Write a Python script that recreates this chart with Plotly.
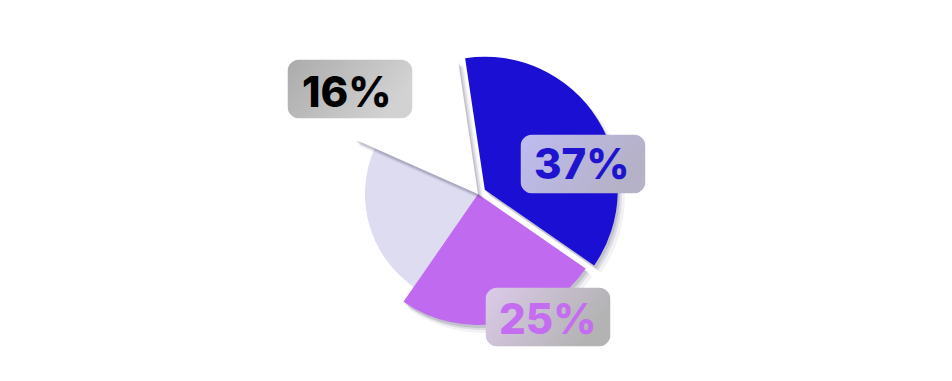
import base64
import plotly.graph_objects as go

# ---------------- data ----------------
categories = ["Blue", "Purple", "Lavender", "White"]
values = [37, 25, 22, 16]
slice_colors = ["#1b0fd4", "#c06bef", "#dedcf0", "#ffffff"]
label_text_colors = ["#2013cf", "#c46df0", "#b9b6dc", "#000000"]
show_label = [True, True, False, True]

# ---------------- layout constants ----------------
W, H = 952, 381
CX, CY = 478, 194
ROTATION = -8.5
radius_px = {"Blue": 133, "Purple": 131, "Lavender": 113, "White": 135}
pull_px = {"Blue": 8, "Purple": 0, "Lavender": 0, "White": 0}
has_shadow = {"Blue": True, "Purple": True, "Lavender": False, "White": True}
draw_order = ["Lavender", "Purple", "White", "Blue"]
shadow_layers = [  # (dx, dy, extra radius, color)
    (6, 7, 1, "rgba(70,70,100,0.07)"),
    (4, 5, 0, "rgba(70,70,100,0.13)"),
    (2, 3, 0, "rgba(70,70,100,0.16)"),
]
# label boxes: center x, center y (px), text center, gradient colours
label_boxes = {
    "Blue": dict(cx=583, cy=164, tx=582, ty=163, c1="#bebcf1", c2="#b5b1c6"),
    "Purple": dict(cx=548, cy=317, tx=547, ty=318, c1="#dccaea", c2="#b3b3b3"),
    "White": dict(cx=350, cy=89, tx=347, ty=92, c1="#ababab", c2="#d2d2d2"),
}
BOX_W, BOX_H, BOX_R = 125, 59, 12


def pie_domain(cx, cy, r, pull_frac):
    half = r * (1 + pull_frac)
    return dict(x=[(cx - half) / W, (cx + half) / W],
                y=[1 - (cy + half) / H, 1 - (cy - half) / H])


def box_uri(w, h, c1, c2, r):
    svg = (f'<svg xmlns="http://www.w3.org/2000/svg" width="{w}" height="{h}" '
           f'viewBox="0 0 {w} {h}" preserveAspectRatio="none"><defs>'
           f'<linearGradient id="g" x1="0" y1="0" x2="1" y2="0.35">'
           f'<stop offset="0" stop-color="{c1}"/><stop offset="1" stop-color="{c2}"/>'
           f'</linearGradient></defs>'
           f'<rect x="0" y="0" width="{w}" height="{h}" rx="{r}" ry="{r}" fill="url(#g)"/></svg>')
    return "data:image/svg+xml;base64," + base64.b64encode(svg.encode()).decode()


fig = go.Figure()


def add_slice(idx, color, dx=0, dy=0, extra_r=0):
    name = categories[idx]
    r = radius_px[name] + extra_r
    pull_frac = pull_px[name] / radius_px[name]
    colors = ["rgba(0,0,0,0)"] * len(values)
    colors[idx] = color
    pulls = [0] * len(values)
    pulls[idx] = pull_frac
    fig.add_trace(go.Pie(
        labels=categories, values=values, sort=False, direction="clockwise",
        rotation=ROTATION, pull=pulls, textinfo="none", hoverinfo="skip",
        marker=dict(colors=colors, line=dict(width=0)),
        domain=pie_domain(CX + dx, CY + dy, r, pull_frac), showlegend=False,
    ))


for name in draw_order:
    i = categories.index(name)
    if has_shadow[name]:
        for dx, dy, er, col in shadow_layers:
            add_slice(i, col, dx, dy, er)
    add_slice(i, slice_colors[i])

images = []
annotations = []
for i, name in enumerate(categories):
    if not show_label[i]:
        continue
    b = label_boxes[name]
    images.append(dict(
        source=box_uri(BOX_W, BOX_H, b["c1"], b["c2"], BOX_R),
        xref="paper", yref="paper",
        x=(b["cx"] - BOX_W / 2) / W, y=1 - (b["cy"] - BOX_H / 2) / H,
        sizex=BOX_W / W, sizey=BOX_H / H, xanchor="left", yanchor="top",
        sizing="stretch", layer="above",
    ))
    annotations.append(dict(
        text=f"{values[i]}%", xref="paper", yref="paper",
        x=b["tx"] / W, y=1 - b["ty"] / H, xanchor="center", yanchor="middle",
        showarrow=False,
        font=dict(family="Inter", size=42, color=label_text_colors[i], weight=800),
    ))

fig.update_layout(
    width=W, height=H, margin=dict(l=0, r=0, t=0, b=0),
    paper_bgcolor="white", plot_bgcolor="white",
    images=images, annotations=annotations, showlegend=False,
)

fig.write_html("out.html")
